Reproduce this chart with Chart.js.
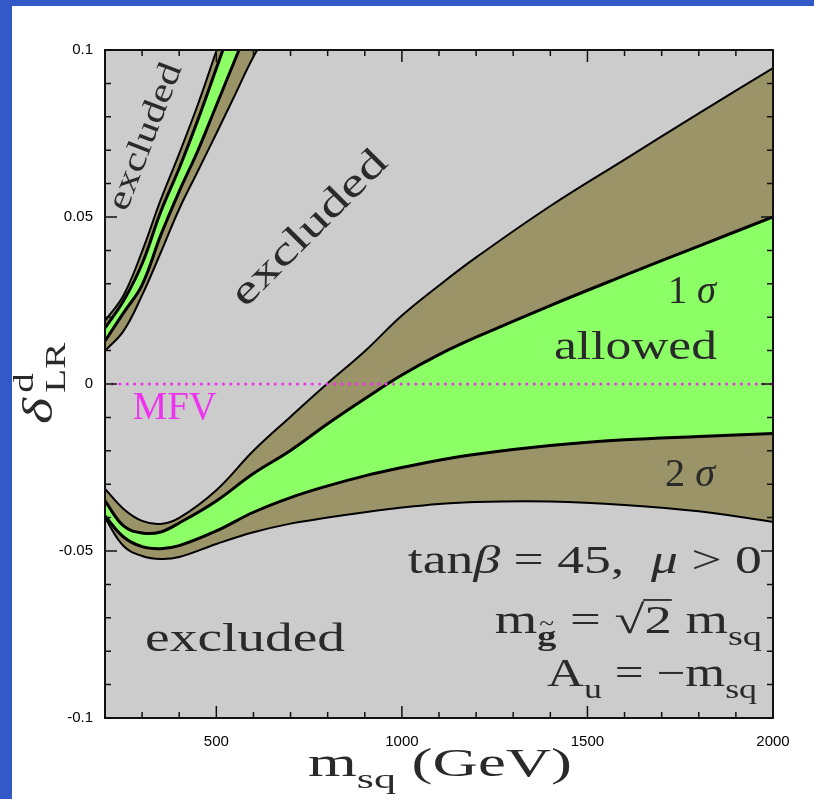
<!DOCTYPE html>
<html>
<head>
<meta charset="utf-8">
<title>delta LR vs msq</title>
<script src="https://cdn.jsdelivr.net/npm/chart.js@4.4.0/dist/chart.umd.min.js"></script>
<style>
  html, body { margin: 0; padding: 0; background: #3358c8; overflow: hidden; }
  #frame { position: absolute; left: 12px; top: 6px; width: 802px; height: 793px; background: #fff; }
</style>
</head>
<body>
<div id="frame"><canvas id="chart"></canvas></div>
<script>
// Axis ranges and tick labels
const X_MIN = 200, X_MAX = 2000;
const Y_MIN = -0.1, Y_MAX = 0.1;
const xTicks = [500, 1000, 1500, 2000];
const xTickLabels = ['500', '1000', '1500', '2000'];
const yTicks = [0.1, 0.05, 0, -0.05, -0.1];
const yTickLabels = ['0.1', '0.05', '0', '-0.05', '-0.1'];

// Colours
const PLOT_BG = '#cccccc';
const OLIVE = '#9a9468';
const GREEN = '#8cff66';
const MAGENTA = '#ee33ee';
const TEXT = '#2a2a2a';

// Narrow branch at small msq (edges from left/top to right/bottom)
const thinX = [200, 250, 300, 350, 400, 450, 500, 550, 600, 650];
const thin2sHigh = [0.0189, 0.0266, 0.0397, 0.0551, 0.0690, 0.0836, 0.0997, 0.1160, 0.1320, 0.1480];
const thin1sHigh = [0.0168, 0.0249, 0.0360, 0.0515, 0.0646, 0.0790, 0.0945, 0.1100, 0.1250, 0.1400];
const thin1sLow  = [0.0129, 0.0213, 0.0297, 0.0445, 0.0577, 0.0698, 0.0834, 0.0970, 0.1105, 0.1240];
const thin2sLow  = [0.0099, 0.0159, 0.0266, 0.0393, 0.0524, 0.0637, 0.0750, 0.0865, 0.0980, 0.1070];

// Main branch
const mainX = [200, 250, 300, 350, 400, 500, 600, 700, 800, 900, 1000, 1100, 1200, 1400, 1600, 1800, 2000];
const main2sHigh = [-0.0314, -0.0374, -0.0410, -0.0419, -0.0401, -0.0318, -0.0200, -0.0098, 0.0002, 0.0098, 0.0205, 0.0295, 0.0379, 0.0533, 0.0672, 0.0810, 0.0946];
const main1sHigh = [-0.0350, -0.0425, -0.0446, -0.0443, -0.0416, -0.0350, -0.0268, -0.0199, -0.0119, -0.0044, 0.0027, 0.0088, 0.0140, 0.0235, 0.0325, 0.0413, 0.0500];
const main1sLow  = [-0.0395, -0.0458, -0.0487, -0.0493, -0.0484, -0.0440, -0.0384, -0.0340, -0.0305, -0.0275, -0.0250, -0.0228, -0.0210, -0.0184, -0.0167, -0.0157, -0.0148];
const main2sLow  = [-0.0401, -0.0485, -0.0515, -0.0524, -0.0518, -0.0479, -0.0444, -0.0418, -0.0400, -0.0384, -0.0370, -0.0359, -0.0353, -0.0352, -0.0362, -0.0381, -0.0413];

// MFV reference line
const mfvX = [200, 2000];
const mfvY = [0, 0];

function pts(xs, ys) {
  return xs.map((x, i) => ({ x: x, y: ys[i] }));
}

function edge(label, xs, ys, width, fill, color) {
  return {
    label: label,
    data: pts(xs, ys),
    borderColor: '#000',
    borderWidth: width,
    pointRadius: 0,
    fill: fill,
    backgroundColor: color || 'transparent',
    tension: 0.4,
    clip: 0
  };
}

// Text pieces: sub / sup get smaller and shifted, keep = no advance
function drawParts(ctx, parts, size, o) {
  const fontFor = p => (p.italic ? 'italic ' : '') + (p.bold ? 'bold ' : '') +
    (size * (p.sub || p.sup ? 0.7 : 1)) + 'px "Liberation Serif", serif';
  let natural = 0;
  const items = parts.map(p => {
    ctx.font = fontFor(p);
    const w = ctx.measureText(p.t).width;
    const it = { p: p, w: w, at: natural };
    if (!p.keep) natural += w;
    return it;
  });
  const sx = o.width ? o.width / natural : 1;
  const start = o.align === 'right' ? -natural : o.align === 'center' ? -natural / 2 : 0;
  ctx.save();
  ctx.translate(o.x, o.y);
  if (o.angle) ctx.rotate(o.angle * Math.PI / 180);
  ctx.scale(sx, 1);
  ctx.fillStyle = o.color || TEXT;
  ctx.strokeStyle = o.color || TEXT;
  ctx.textBaseline = o.baseline || 'alphabetic';
  items.forEach(it => {
    const p = it.p;
    ctx.font = fontFor(p);
    const dy = p.sub ? size * 0.3 : p.sup ? -size * 0.45 : 0;
    const x0 = start + it.at + (p.gap || 0);
    ctx.fillText(p.t, x0, dy);
    if (p.tilde) {
      ctx.font = (size * 0.5) + 'px "Liberation Serif", serif';
      ctx.fillText('~', x0 + it.w * 0.1, dy - size * 0.38);
    }
    if (p.bar) {
      ctx.lineWidth = size * 0.045;
      ctx.beginPath();
      ctx.moveTo(x0 - 1, -size * 0.83);
      ctx.lineTo(x0 + it.w, -size * 0.83);
      ctx.stroke();
    }
  });
  ctx.restore();
}

// Labels placed in data coordinates
const notes = [
  { parts: [{ t: 'excluded' }], x: 310, y: 0.074, size: 34, width: 155, angle: -69, align: 'center', baseline: 'middle' },
  { parts: [{ t: 'excluded' }], x: 752, y: 0.0464, size: 40, width: 204, angle: -45, align: 'center', baseline: 'middle' },
  { parts: [{ t: 'excluded' }], x: 308, y: -0.0799, size: 40, width: 200, align: 'left' },
  { parts: [{ t: '1 ' }, { t: 'σ', italic: true }], x: 1717, y: 0.0243, size: 40, width: 48, align: 'left' },
  { parts: [{ t: 'allowed' }], x: 1849, y: 0.0075, size: 40, width: 163, align: 'right' },
  { parts: [{ t: '2 ' }, { t: 'σ', italic: true }], x: 1709, y: -0.0305, size: 40, width: 50, align: 'left' },
  { parts: [{ t: 'MFV' }], x: 275, y: -0.0105, size: 40, width: 84, align: 'left', color: MAGENTA },
  { parts: [{ t: 'tan' }, { t: 'β', italic: true }, { t: ' = 45,  ' }, { t: 'μ', italic: true }, { t: ' > 0' }],
    x: 1970, y: -0.0566, size: 40, width: 354, align: 'right' },
  { parts: [{ t: 'm' }, { t: 'g', sub: true, bold: true, tilde: true }, { t: ' = √' }, { t: '2', bar: true }, { t: ' m' }, { t: 'sq', sub: true }],
    x: 1970, y: -0.0746, size: 40, width: 267, align: 'right' },
  { parts: [{ t: 'A' }, { t: 'u', sub: true }, { t: ' = −m' }, { t: 'sq', sub: true }],
    x: 1957, y: -0.0904, size: 40, width: 210, align: 'right' }
];

const framePlugin = {
  id: 'framePlugin',
  beforeDraw(chart) {
    const { ctx, chartArea: a } = chart;
    ctx.save();
    ctx.fillStyle = PLOT_BG;
    ctx.fillRect(a.left, a.top, a.right - a.left, a.bottom - a.top);
    ctx.restore();
  },
  afterDatasetsDraw(chart) {
    const { ctx, chartArea: a } = chart;
    const sx = chart.scales.x, sy = chart.scales.y;
    ctx.save();
    ctx.strokeStyle = '#111';
    ctx.lineWidth = 1.5;
    ctx.beginPath();
    // inward ticks, every 100 GeV and every 0.01
    for (let v = X_MIN + 100; v < X_MAX; v += 100) {
      const px = sx.getPixelForValue(v);
      const len = v % 500 === 0 ? 12 : 6;
      ctx.moveTo(px, a.bottom); ctx.lineTo(px, a.bottom - len);
      ctx.moveTo(px, a.top); ctx.lineTo(px, a.top + len);
    }
    for (let k = -9; k <= 9; k++) {
      const py = sy.getPixelForValue(k / 100);
      const len = k % 5 === 0 ? 12 : 6;
      ctx.moveTo(a.left, py); ctx.lineTo(a.left + len, py);
      ctx.moveTo(a.right, py); ctx.lineTo(a.right - len, py);
    }
    ctx.stroke();
    ctx.lineWidth = 2;
    ctx.strokeRect(a.left, a.top, a.right - a.left, a.bottom - a.top);
    ctx.restore();
  },
  afterDraw(chart) {
    const { ctx } = chart;
    const sx = chart.scales.x, sy = chart.scales.y;
    notes.forEach(n => {
      drawParts(ctx, n.parts, n.size, {
        x: sx.getPixelForValue(n.x), y: sy.getPixelForValue(n.y),
        width: n.width, angle: n.angle, align: n.align, baseline: n.baseline, color: n.color
      });
    });
    // axis titles
    drawParts(ctx, [{ t: 'm' }, { t: 'sq', sub: true }, { t: ' (GeV)' }], 40,
      { x: 428, y: 770, width: 264, align: 'center' });
    drawParts(ctx, [{ t: 'δ', italic: true }, { t: 'd', sup: true, keep: true, gap: 4 }, { t: 'LR', sub: true, gap: 4 }], 42,
      { x: 40, y: 380, width: 76, angle: -90, align: 'center' });
  }
};

new Chart(document.getElementById('chart'), {
  type: 'line',
  data: {
    datasets: [
      {
        label: 'MFV',
        data: pts(mfvX, mfvY),
        borderColor: MAGENTA,
        borderWidth: 3,
        borderDash: [0.1, 7.3],
        borderCapStyle: 'round',
        pointRadius: 0,
        fill: false,
        clip: 0
      },
      edge('thin 2s high', thinX, thin2sHigh, 2, '+1', OLIVE),
      edge('thin 1s high', thinX, thin1sHigh, 3, '+1', GREEN),
      edge('thin 1s low', thinX, thin1sLow, 3, '+1', OLIVE),
      edge('thin 2s low', thinX, thin2sLow, 2, false),
      edge('2s high', mainX, main2sHigh, 2, '+1', OLIVE),
      edge('1s high', mainX, main1sHigh, 3, '+1', GREEN),
      edge('1s low', mainX, main1sLow, 3, '+1', OLIVE),
      edge('2s low', mainX, main2sLow, 2, false)
    ]
  },
  options: {
    responsive: true,
    maintainAspectRatio: false,
    animation: false,
    events: [],
    layout: { padding: { top: 44, right: 41, left: 0, bottom: 0 } },
    plugins: {
      legend: { display: false },
      tooltip: { enabled: false },
      filler: { drawTime: 'beforeDatasetsDraw', propagate: false }
    },
    scales: {
      x: {
        type: 'linear', min: X_MIN, max: X_MAX,
        grid: { display: false, drawTicks: false },
        border: { display: false },
        afterBuildTicks: s => { s.ticks = xTicks.map(v => ({ value: v })); },
        afterFit: s => { s.height = 81; },
        ticks: {
          autoSkip: false, maxRotation: 0, padding: 15, color: '#000',
          font: { family: 'Liberation Sans', size: 15 },
          callback: v => xTickLabels[xTicks.indexOf(v)]
        }
      },
      y: {
        type: 'linear', min: Y_MIN, max: Y_MAX,
        grid: { display: false, drawTicks: false },
        border: { display: false },
        afterBuildTicks: s => { s.ticks = yTicks.map(v => ({ value: v })); },
        afterFit: s => { s.width = 93; },
        ticks: {
          autoSkip: false, padding: 12, color: '#000',
          font: { family: 'Liberation Sans', size: 15 },
          callback: v => yTickLabels[yTicks.indexOf(v)]
        }
      }
    }
  },
  plugins: [framePlugin]
});
</script>
</body>
</html>
